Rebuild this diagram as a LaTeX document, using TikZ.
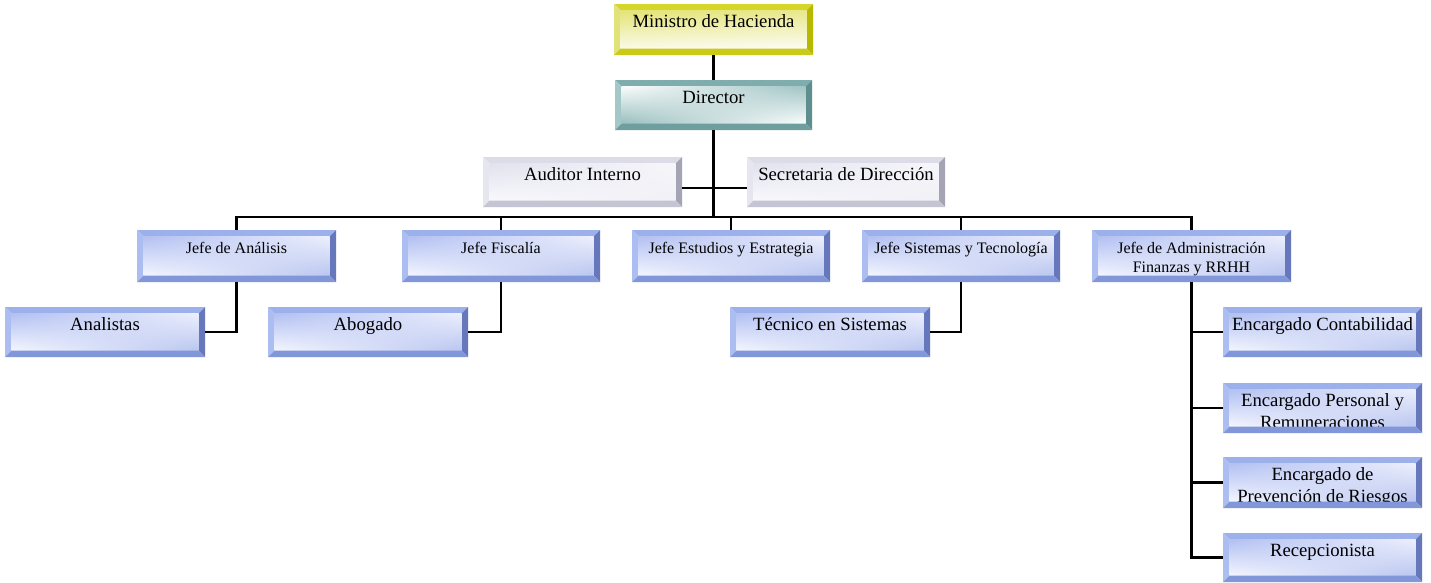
\documentclass[tikz,border=0pt]{standalone}
\usepackage{fontspec}
\setmainfont{Liberation Serif}
\usetikzlibrary{shadings}
\definecolor{blueT}{HTML}{9CB0EC}
\definecolor{blueL}{HTML}{ACBDF2}
\definecolor{blueR}{HTML}{6677BC}
\definecolor{blueB}{HTML}{8296DA}
\definecolor{yelT}{HTML}{D6D62A}
\definecolor{yelL}{HTML}{E2E27A}
\definecolor{yelR}{HTML}{B8B800}
\definecolor{yelB}{HTML}{CACA18}
\definecolor{tealT}{HTML}{7FADAD}
\definecolor{tealL}{HTML}{A4C8C8}
\definecolor{tealR}{HTML}{5E8E8E}
\definecolor{tealB}{HTML}{6E9E9E}
\definecolor{grayT}{HTML}{DCDCE8}
\definecolor{grayL}{HTML}{E6E6EF}
\definecolor{grayR}{HTML}{A4A4B4}
\definecolor{grayB}{HTML}{C4C4D2}
\definecolor{blueUL}{HTML}{B2C0F2}
\definecolor{blueUR}{HTML}{ECEFFC}
\definecolor{blueLL}{HTML}{F4F6FE}
\definecolor{blueLR}{HTML}{BAC6F0}
\definecolor{yelUL}{HTML}{E4E478}
\definecolor{yelUR}{HTML}{E8E88C}
\definecolor{yelLL}{HTML}{FAFAE8}
\definecolor{yelLR}{HTML}{FCFCF4}
\definecolor{tealUL}{HTML}{FAFCFC}
\definecolor{tealUR}{HTML}{A0C4C4}
\definecolor{tealLL}{HTML}{98BEBE}
\definecolor{tealLR}{HTML}{FCFDFD}
\definecolor{grayUL}{HTML}{E2E2EE}
\definecolor{grayUR}{HTML}{F6F6FA}
\definecolor{grayLL}{HTML}{F8F8FC}
\definecolor{grayLR}{HTML}{F0F0F6}
\tikzset{
  x=1pt, y=-1pt,
  boxframe/.style={rectangle, draw=none, inner sep=0pt, outer sep=0pt},
  blueS/.style={upper left=blueUL, upper right=blueUR, lower left=blueLL, lower right=blueLR},
  yelS/.style={upper left=yelUL, upper right=yelUR, lower left=yelLL, lower right=yelLR},
  tealS/.style={upper left=tealUL, upper right=tealUR, lower left=tealLL, lower right=tealLR},
  grayS/.style={upper left=grayUL, upper right=grayUR, lower left=grayLL, lower right=grayLR},
  bigtxt/.style={font=\fontsize{18.7}{22.5}\selectfont, align=center, inner sep=0pt},
  smalltxt/.style={font=\fontsize{16}{19.5}\selectfont, align=center, inner sep=0pt},
  bigtwo/.style={bigtxt, yshift=-22.5pt},
  smalltwo/.style={smalltxt, yshift=-19.5pt},
  conn/.style={line width=2.2pt, black},
}
\def\bw{6.5pt}
\newcommand{\bevbox}[8]{%
  \node[boxframe, minimum width={(#4-#2)*1pt}, minimum height={(#5-#3)*1pt}, anchor=north west] (#1) at (#2,#3) {};
  \fill[#6T] (#1.north west) -- (#1.north east) -- ([xshift=-\bw,yshift=-\bw]#1.north east) -- ([xshift=\bw,yshift=-\bw]#1.north west) -- cycle;
  \fill[#6L] (#1.north west) -- (#1.south west) -- ([xshift=\bw,yshift=\bw]#1.south west) -- ([xshift=\bw,yshift=-\bw]#1.north west) -- cycle;
  \fill[#6R] (#1.north east) -- (#1.south east) -- ([xshift=-\bw,yshift=\bw]#1.south east) -- ([xshift=-\bw,yshift=-\bw]#1.north east) -- cycle;
  \shade[#6S] ([xshift=\bw,yshift=-\bw]#1.north west) rectangle ([xshift=-\bw,yshift=\bw]#1.south east);
  \node[#7, anchor=base] (#1-t) at ([yshift=-23pt]#1.north) {#8};
  \fill[#6B] (#1.south west) -- (#1.south east) -- ([xshift=-\bw,yshift=\bw]#1.south east) -- ([xshift=\bw,yshift=\bw]#1.south west) -- cycle;
}
\begin{document}
\begin{tikzpicture}
\useasboundingbox (0,0) rectangle (1431,582);
\fill[white] (0,0) rectangle (1431,582);
\bevbox{min}{614}{4}{813}{55}{yel}{bigtxt}{Ministro de Hacienda}
\bevbox{dir}{615}{80}{812}{130}{teal}{bigtxt}{Director}
\bevbox{aud}{483}{157}{682}{207}{gray}{bigtxt}{Auditor Interno}
\bevbox{sec}{747}{157}{945}{207}{gray}{bigtxt}{Secretaria de Dirección}
\bevbox{jan}{137}{230}{336}{282}{blue}{smalltxt}{Jefe de Análisis}
\bevbox{jfi}{402}{230}{600}{282}{blue}{smalltxt}{Jefe Fiscalía}
\bevbox{jes}{632}{230}{830}{282}{blue}{smalltxt}{Jefe Estudios y Estrategia}
\bevbox{jsi}{862}{230}{1060}{282}{blue}{smalltxt}{Jefe Sistemas y Tecnología}
\bevbox{jad}{1092}{230}{1291}{282}{blue}{smalltwo}{Jefe de Administración\\Finanzas y RRHH}
\bevbox{ana}{5}{307}{205}{357}{blue}{bigtxt}{Analistas}
\bevbox{abo}{268}{307}{468}{357}{blue}{bigtxt}{Abogado}
\bevbox{tec}{730}{307}{930}{357}{blue}{bigtxt}{Técnico en Sistemas}
\bevbox{con}{1223}{307}{1422}{357}{blue}{bigtxt}{Encargado Contabilidad}
\bevbox{per}{1223}{383}{1422}{433}{blue}{bigtwo}{Encargado Personal y\\Remuneraciones}
\bevbox{pre}{1223}{457}{1422}{508}{blue}{bigtwo}{Encargado de\\Prevención de Riesgos}
\bevbox{rec}{1223}{533}{1422}{582}{blue}{bigtxt}{Recepcionista}
\coordinate (bus) at (714,217);
\draw[conn] (min.south) -- (dir.north);
\draw[conn] (dir.south) -- (dir.south |- bus);
\draw[conn] ([yshift=-6pt]aud.east) -- ([yshift=-6pt]sec.west);
\draw[conn] (jan.north) -- (jan.north |- bus) -| (jad.north);
\draw[conn] (jfi.north) -- (jfi.north |- bus);
\draw[conn] (jes.north) -- (jes.north |- bus);
\draw[conn] (jsi.north) -- (jsi.north |- bus);
\draw[conn] (jan.south) |- (ana.east);
\draw[conn] (jfi.south) |- (abo.east);
\draw[conn] (jsi.south) |- (tec.east);
\draw[conn] (jad.south) |- (rec.west);
\draw[conn] (jad.south |- con.west) -- (con.west);
\draw[conn] (jad.south |- per.west) -- (per.west);
\draw[conn] (jad.south |- pre.west) -- (pre.west);
\end{tikzpicture}
\end{document}
